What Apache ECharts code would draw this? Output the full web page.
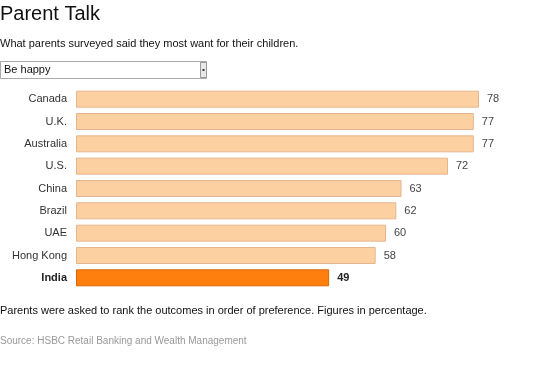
<!DOCTYPE html>
<html><head><meta charset="utf-8">
<script src="https://cdn.jsdelivr.net/npm/echarts@6/dist/echarts.min.js"></script>
<style>html,body{margin:0;padding:0;background:#fff}#c{width:553px;height:369px}</style>
</head><body><div id="c"></div>
<script>
const categories = ['Canada','U.K.','Australia','U.S.','China','Brazil','UAE','Hong Kong','India'];
const values = [78,77,77,72,63,62,60,58,49];
const highlight = 'India';
const FONT = '"Liberation Sans", Arial, sans-serif';

const chart = echarts.init(document.getElementById('c'), null, {renderer:'canvas'});
const data = values.map((v,i)=>{
  const hi = categories[i]===highlight;
  return {
    value: v,
    itemStyle: hi ? {color:'#FF7F0E', borderColor:'#D9650A', borderWidth:1}
                  : {color:'#FDD0A2', borderColor:'#E5B58E', borderWidth:1},
    label: hi ? {fontWeight:'bold', color:'#222'} : {}
  };
});
chart.setOption({
  animation:false,
  title:[
    {text:'Parent Talk', left:0, top:4, padding:0, textStyle:{fontFamily:FONT, fontSize:20, fontWeight:'normal', color:'#111'}},
    {text:'What parents surveyed said they most want for their children.', left:0, top:38, padding:0, textStyle:{fontFamily:FONT, fontSize:11, fontWeight:'normal', color:'#111'}},
    {text:'Parents were asked to rank the outcomes in order of preference. Figures in percentage.', left:0, top:305, padding:0, textStyle:{fontFamily:FONT, fontSize:11, fontWeight:'normal', color:'#111'}},
    {text:'Source: HSBC Retail Banking and Wealth Management', left:0, top:336, padding:0, textStyle:{fontFamily:FONT, fontSize:10, fontWeight:'normal', color:'#999'}}
  ],
  graphic:[
    {type:'rect', shape:{x:0.5,y:61.5,width:206,height:17}, style:{fill:'#fff', stroke:'#aaa', lineWidth:1}},
    {type:'rect', shape:{x:200.5,y:62.5,width:6,height:15}, style:{fill:'#e8e8e8', stroke:'#999', lineWidth:1}},
    {type:'rect', shape:{x:202.5,y:69,width:2,height:2}, style:{fill:'#333'}},
    {type:'text', left:4, top:64, style:{text:'Be happy', font:'11px '+FONT, fill:'#111'}}
  ],
  grid:{left:76, right:74, top:88, bottom:80, containLabel:false},
  xAxis:{type:'value', min:0, max:78, show:false},
  yAxis:{type:'category', inverse:true, data:categories,
    axisLine:{show:false}, axisTick:{show:false},
    axisLabel:{margin:9, fontFamily:FONT, fontSize:11, color:'#333',
      formatter:(v)=> v===highlight ? '{b|'+v+'}' : v,
      rich:{b:{fontWeight:'bold', color:'#222', fontFamily:FONT, fontSize:11}}}
  },
  series:[{type:'bar', data:data, barCategoryGap:'24%',
    label:{show:true, position:'right', distance:8, fontFamily:FONT, fontSize:11, color:'#444'}}]
});
</script></body></html>
